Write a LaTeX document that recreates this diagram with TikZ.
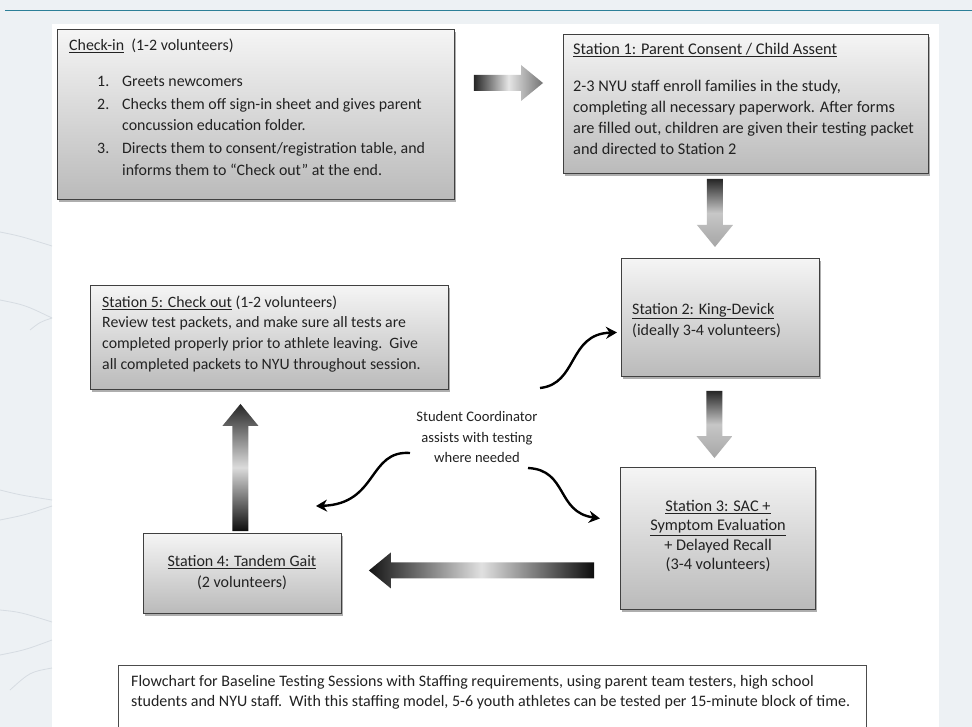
\documentclass[tikz,border=0pt]{standalone}
\usepackage{fontspec}
\setmainfont{Carlito}
\usetikzlibrary{shadows,calc,arrows.meta}
\definecolor{bgc}{HTML}{EDF1F4}
\definecolor{tealc}{HTML}{2C7F98}
\definecolor{decoc}{HTML}{D6DCE2}
\definecolor{txtc}{HTML}{222222}
\newcommand\hblock[3]{%
  \shade[#3] let \p1=(#1), \p2=(#2), \n1={((\x2>\x1)*2-1)*22} in
  (\x1,\y1+8pt) -- (\x2-\n1,\y1+8pt) -- (\x2-\n1,\y1+18pt) -- (\x2,\y1)
  -- (\x2-\n1,\y1-18pt) -- (\x2-\n1,\y1-8pt) -- (\x1,\y1-8pt) -- cycle;}
\newcommand\vblock[3]{%
  \shade[#3] let \p1=(#1), \p2=(#2), \n1={((\y2>\y1)*2-1)*22} in
  (\x1+8pt,\y1) -- (\x1+8pt,\y2-\n1) -- (\x1+18pt,\y2-\n1) -- (\x1,\y2)
  -- (\x1-18pt,\y2-\n1) -- (\x1-8pt,\y2-\n1) -- (\x1-8pt,\y1) -- cycle;}
\begin{document}
\begin{tikzpicture}[x=1pt,y=-1pt,
  box/.style={draw=black!75, line width=0.9pt, top color=black!4, bottom color=black!27,
    drop shadow={shadow xshift=1.5pt, shadow yshift=-3pt, opacity=0.45, fill=black!70},
    inner sep=0pt, anchor=north west},
  txt/.style={inner sep=0pt, font=\fontsize{15.9}{21.3}\selectfont, text=txtc},
  small/.style={inner sep=0pt, font=\fontsize{14.6}{20.5}\selectfont, text=txtc},
  curv/.style={line width=2.4pt, -{Stealth[length=11pt,width=12pt]}},
  deco/.style={decoc, line width=0.8pt}
]
\useasboundingbox (0,0) rectangle (972,727);
% page background
\fill[bgc] (0,0) rectangle (972,727);
\fill[white] (52,24) rectangle (939,727);
\draw[tealc, line width=1pt] (5,11) -- (972,11);
% faint decoration on the left margin
\draw[deco] (0,232) .. controls (20,236) .. (52,246);
\draw[deco] (0,300) .. controls (25,305) .. (52,318);
\draw[deco] (30,330) .. controls (40,322) .. (52,318);
\draw[deco] (0,490) .. controls (20,495) .. (52,500);
\draw[deco] (0,520) .. controls (25,515) .. (52,506);
\draw[deco] (0,610) .. controls (20,612) .. (52,622);
\draw[deco] (0,655) .. controls (25,650) .. (52,640);
\draw[deco] (10,690) .. controls (30,672) .. (52,668);

% boxes
\node[box, minimum width=397pt, minimum height=170pt] (ci) at (57,29) {};
\node[box, minimum width=365pt, minimum height=139pt] (s1) at (563,34) {};
\node[box, minimum width=198pt, minimum height=118pt] (s2) at (621,258) {};
\node[box, minimum width=195pt, minimum height=142pt] (s3) at (620,467) {};
\node[box, minimum width=198pt, minimum height=80pt] (s4) at (143,533) {};
\node[box, minimum width=358pt, minimum height=104pt] (s5) at (90,285) {};
\node[draw=black!70, line width=0.8pt, minimum width=748pt, minimum height=70pt,
  inner sep=0pt, anchor=north west] (cap) at (118,665) {};

% texts
\node[txt, anchor=north west, align=left] (citxt) at (69,39) {%
  \underline{Check-in}\ \ (1-2 volunteers)\\[14.5pt]
  \hspace*{28pt}\makebox[25pt][l]{1.}Greets newcomers\\[1.7pt]
  \hspace*{28pt}\makebox[25pt][l]{2.}Checks them off sign-in sheet and gives parent\\
  \hspace*{53pt}concussion education folder.\\[1.7pt]
  \hspace*{28pt}\makebox[25pt][l]{3.}Directs them to consent/registration table, and\\
  \hspace*{53pt}informs them to ``Check out'' at the end.};
\node[txt, anchor=north west, align=left, font=\fontsize{16.3}{21}\selectfont] (s1txt) at (573,43) {%
  \underline{Station 1: Parent Consent / Child Assent}\\[16pt]
  2-3 NYU staff enroll families in the study,\\
  completing all necessary paperwork. After forms\\
  are filled out, children are given their testing packet\\
  and directed to Station 2};
\node[txt, anchor=north west, align=left, font=\fontsize{16}{21}\selectfont] (s2txt) at (632,303) {%
  \underline{Station 2: King-Devick}\\
  (ideally 3-4 volunteers)};
\node[txt, anchor=north, align=center, font=\fontsize{16.3}{19.5}\selectfont] (s3txt) at (718,500) {%
  \underline{Station 3: SAC +}\\
  \underline{Symptom Evaluation}\\
  + Delayed Recall\\
  (3-4 volunteers)};
\node[txt, anchor=north, align=center, font=\fontsize{16}{21}\selectfont] (s4txt) at (242,555) {%
  \underline{Station 4: Tandem Gait}\\
  (2 volunteers)};
\node[txt, anchor=north west, align=left, font=\fontsize{15.8}{20.7}\selectfont] (s5txt) at (102,295.5) {%
  \underline{Station 5: Check out} (1-2 volunteers)\\
  Review test packets, and make sure all tests are\\
  completed properly prior to athlete leaving.\ \ Give\\
  all completed packets to NYU throughout session.};
\node[small, anchor=north, align=center] (sc) at (477,411.5) {%
  Student Coordinator\\
  assists with testing\\
  where needed};
\node[txt, anchor=north west, align=left, font=\fontsize{16}{20}\selectfont] (captxt) at (131,675) {%
  Flowchart for Baseline Testing Sessions with Staffing requirements, using parent team testers, high school\\
  students and NYU staff.\ \ With this staffing model, 5-6 youth athletes can be tested per 15-minute block of time.};

% block arrows
\coordinate (a1s) at ($(ci.north east)+(19,54)$);
\coordinate (a1e) at ($(s1.north west)+(-20,49)$);
\hblock{a1s}{a1e}{left color=black!85, right color=black!55, middle color=black!10}
\coordinate (a2s) at ($(s1.south)+(-31,5)$);
\coordinate (a2e) at ($(s2.north)+(-6,-11)$);
\vblock{a2s}{a2e}{top color=black!85, bottom color=black!35, middle color=black!22}
\coordinate (a3s) at ($(s2.south)+(-6,14)$);
\coordinate (a3e) at ($(s3.north)+(-3.5,-9)$);
\vblock{a3s}{a3e}{top color=black!85, bottom color=black!35, middle color=black!22}
\coordinate (a4s) at ($(s3.west)+(-26,32)$);
\coordinate (a4e) at ($(s4.east)+(27,-3)$);
\hblock{a4s}{a4e}{left color=black!92, right color=black!95, middle color=black!12}
\coordinate (a5s) at ($(s4.north)+(-2,-2)$);
\coordinate (a5e) at ($(s5.south)+(-29,14)$);
\vblock{a5s}{a5e}{top color=black!85, bottom color=black!95, middle color=black!14}

% curved arrows from the Student Coordinator note
\coordinate (c1s) at (540,388);
\coordinate (c1e) at ($(s2.west)+(-4,15)$);
\draw[curv] (c1s) .. controls (578,384) and (568,334) .. (c1e);
\coordinate (c2s) at (410,453);
\coordinate (c2e) at (316,506);
\draw[curv] (c2s) .. controls (368,450) and (378,504) .. (c2e);
\coordinate (c3s) at (528,468);
\coordinate (c3e) at ($(s3.west)+(-20,-20)$);
\draw[curv] (c3s) .. controls (568,470) and (556,512) .. (c3e);
\end{tikzpicture}
\end{document}
